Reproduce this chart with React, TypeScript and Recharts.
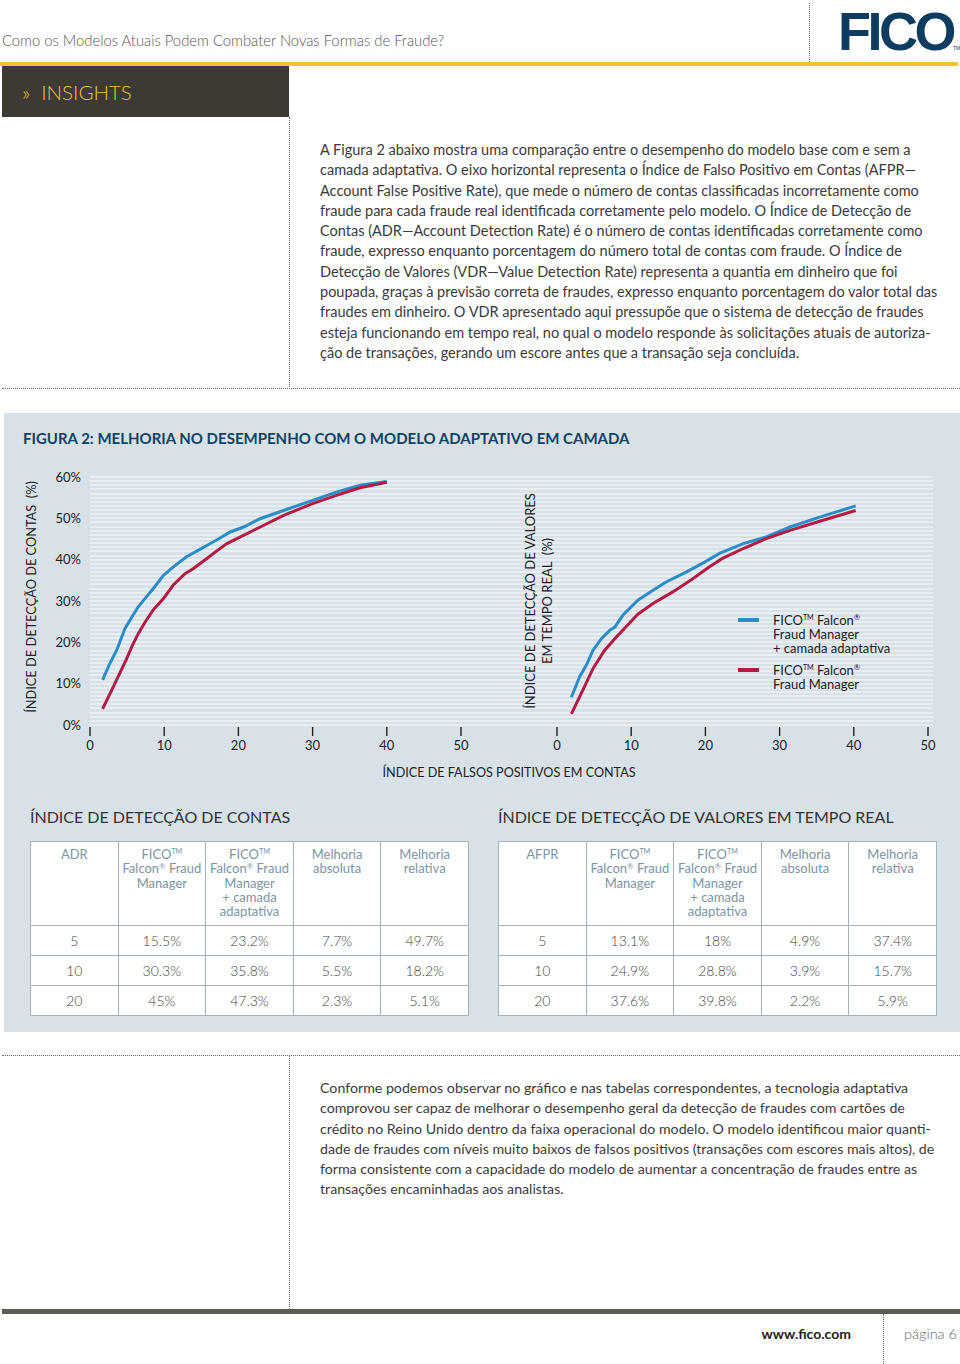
import React from 'react';
import { LineChart, Line, XAxis, YAxis, Legend } from 'recharts';

const FONT = 'Lato, "Open Sans", "Noto Sans", sans-serif';
const BLUE = '#2a8cc8';
const RED = '#b51a43';
const PANEL = '#d8e1e8';
const STRIPE = '#e9eef2';
const DOT = '1px dotted #6b6b6b';

// ---------- axis ticks ----------
const fprTicks = [0, 10, 20, 30, 40, 50];
const rateTicks = [0, 10, 20, 30, 40, 50, 60];

// ---------- ADR chart (Índice de detecção de contas) ----------
const adrAdaptiveFpr = [1.7, 2.6, 3.6, 4.7, 5.6, 6.5, 7.6, 8.7, 9.9, 11.2, 13.0, 14.5, 15.8, 17.3, 18.9, 20.7, 22.9, 26.1, 29.9, 33.3, 36.4, 40.0];
const adrAdaptiveRate = [10.9, 14.6, 18.1, 23.3, 26.0, 28.6, 31.0, 33.4, 36.2, 38.2, 40.7, 42.2, 43.5, 45.0, 46.7, 47.9, 49.9, 51.9, 54.3, 56.4, 58.0, 58.9];
const adrBaseFpr = [1.7, 3.15, 4.9, 5.7, 6.5, 7.5, 8.5, 9.9, 11.2, 12.8, 13.9, 15.75, 17.0, 18.45, 19.8, 22.95, 26.1, 29.9, 33.3, 36.4, 40.0];
const adrBaseRate = [3.9, 9.3, 15.9, 19.2, 22.1, 25.1, 27.8, 30.6, 33.8, 36.6, 37.8, 40.3, 42.0, 43.9, 45.1, 47.9, 50.7, 53.5, 55.6, 57.4, 58.7];

// ---------- VDR chart (Índice de detecção de valores em tempo real) ----------
const vdrAdaptiveFpr = [1.94, 3.05, 3.96, 4.86, 5.98, 7.1, 7.78, 8.9, 10.9, 12.94, 14.7, 17.4, 19.9, 21.9, 25.1, 28.2, 31.4, 35.4, 40.25];
const vdrAdaptiveRate = [6.7, 11.7, 14.5, 18.1, 20.9, 22.9, 23.7, 26.6, 30.2, 32.6, 34.6, 37.0, 39.4, 41.5, 43.9, 45.5, 47.9, 50.3, 53.0];
const vdrBaseFpr = [1.94, 3.5, 4.86, 6.43, 8.0, 10.9, 12.94, 15.6, 18.3, 20.5, 22.3, 25.1, 28.2, 31.4, 35.4, 40.25];
const vdrBaseRate = [2.7, 8.5, 13.7, 18.1, 21.3, 26.8, 29.4, 32.2, 35.4, 38.2, 40.3, 42.7, 45.1, 47.1, 49.3, 51.9];

// ---------- series names ----------
const adaptiveLegend = ['FICO™ Falcon®', 'Fraud Manager', '+ camada adaptativa'];
const baseLegend = ['FICO™ Falcon®', 'Fraud Manager'];
const adaptiveName = adaptiveLegend.join(' ');
const baseName = baseLegend.join(' ');

// ---------- tables ----------
const adrHeader = ['ADR', 'FICO™\nFalcon® Fraud\nManager', 'FICO™\nFalcon® Fraud\nManager\n+ camada\nadaptativa', 'Melhoria\nabsoluta', 'Melhoria\nrelativa'];
const vdrHeader = ['AFPR', 'FICO™\nFalcon® Fraud\nManager', 'FICO™\nFalcon® Fraud\nManager\n+ camada\nadaptativa', 'Melhoria\nabsoluta', 'Melhoria\nrelativa'];
const adrLevels = ['5', '10', '20'];
const adrBase = ['15.5%', '30.3%', '45%'];
const adrAdaptive = ['23.2%', '35.8%', '47.3%'];
const adrAbsolute = ['7.7%', '5.5%', '2.3%'];
const adrRelative = ['49.7%', '18.2%', '5.1%'];
const afprLevels = ['5', '10', '20'];
const vdrBase = ['13.1%', '24.9%', '37.6%'];
const vdrAdaptive = ['18%', '28.8%', '39.8%'];
const vdrAbsolute = ['4.9%', '3.9%', '2.2%'];
const vdrRelative = ['37.4%', '15.7%', '5.9%'];

// ---------- text ----------
const headerTitle = 'Como os Modelos Atuais Podem Combater Novas Formas de Fraude?';
const introLines = [
  'A Figura 2 abaixo mostra uma comparação entre o desempenho do modelo base com e sem a',
  'camada adaptativa. O eixo horizontal representa o Índice de Falso Positivo em Contas (AFPR—',
  'Account False Positive Rate), que mede o número de contas classificadas incorretamente como',
  'fraude para cada fraude real identificada corretamente pelo modelo. O Índice de Detecção de',
  'Contas (ADR—Account Detection Rate) é o número de contas identificadas corretamente como',
  'fraude, expresso enquanto porcentagem do número total de contas com fraude. O Índice de',
  'Detecção de Valores (VDR—Value Detection Rate) representa a quantia em dinheiro que foi',
  'poupada, graças à previsão correta de fraudes, expresso enquanto porcentagem do valor total das',
  'fraudes em dinheiro. O VDR apresentado aqui pressupõe que o sistema de detecção de fraudes',
  'esteja funcionando em tempo real, no qual o modelo responde às solicitações atuais de autoriza-',
  'ção de transações, gerando um escore antes que a transação seja concluída.',
];
const outroLines = [
  'Conforme podemos observar no gráfico e nas tabelas correspondentes, a tecnologia adaptativa',
  'comprovou ser capaz de melhorar o desempenho geral da detecção de fraudes com cartões de',
  'crédito no Reino Unido dentro da faixa operacional do modelo. O modelo identificou maior quanti-',
  'dade de fraudes com níveis muito baixos de falsos positivos (transações com escores mais altos), de',
  'forma consistente com a capacidade do modelo de aumentar a concentração de fraudes entre as',
  'transações encaminhadas aos analistas.',
];

const toPoints = (xs: number[], ys: number[]) => xs.map((x, i) => ({ fpr: x, rate: ys[i] }));
const adrAdaptiveData = toPoints(adrAdaptiveFpr, adrAdaptiveRate);
const adrBaseData = toPoints(adrBaseFpr, adrBaseRate);
const vdrAdaptiveData = toPoints(vdrAdaptiveFpr, vdrAdaptiveRate);
const vdrBaseData = toPoints(vdrBaseFpr, vdrBaseRate);

const withMarks = (s: string) =>
  s.split(/(™|®)/).map((part, i) => {
    if (part === '™')
      return (
        <span key={i} style={{ fontSize: '0.55em', lineHeight: 0, position: 'relative', top: '-0.75em' }}>TM</span>
      );
    if (part === '®')
      return (
        <span key={i} style={{ fontSize: '0.6em', lineHeight: 0, position: 'relative', top: '-0.6em' }}>®</span>
      );
    return <React.Fragment key={i}>{part}</React.Fragment>;
  });

const XTick = (props: any) => {
  const { x, y, payload } = props;
  return (
    <g>
      <line x1={x} x2={x} y1={y + 2} y2={y + 11} stroke="#222" strokeWidth={1.4} />
      <text x={x} y={y + 20} textAnchor="middle" dominantBaseline="central" fontSize={13} fill="#222" fontFamily={FONT}>
        {payload.value}
      </text>
    </g>
  );
};

const LegendContent = (props: any) => {
  const { payload } = props;
  const items = [...(payload || [])].sort((a: any, b: any) => (a.value === adaptiveName ? -1 : b.value === adaptiveName ? 1 : 0));
  const linesFor = (name: string) => (name === adaptiveName ? adaptiveLegend : baseLegend);
  return (
    <div style={{ fontFamily: FONT }}>
      {items.map((p: any, i: number) => (
        <div key={i} style={{ display: 'flex', alignItems: 'flex-start', marginBottom: i === 0 ? 8 : 0 }}>
          <div style={{ width: 21, height: 4, background: p.color, marginTop: 5, marginRight: 14, flexShrink: 0 }} />
          <div style={{ fontSize: 13, lineHeight: '14px', color: '#222', whiteSpace: 'nowrap' }}>
            {linesFor(p.value).map((l, j) => (
              <div key={j} style={{ height: 14 }}>{withMarks(l)}</div>
            ))}
          </div>
        </div>
      ))}
    </div>
  );
};

const abs = (extra: React.CSSProperties): React.CSSProperties => ({ position: 'absolute', ...extra });

const DataTable = ({ left, title, header, rows }: { left: number; title: string; header: string[]; rows: string[][] }) => {
  const border = '1px solid #a3b3bd';
  return (
    <>
      <div style={abs({ left, top: 806, fontSize: 16, color: '#333', whiteSpace: 'nowrap', lineHeight: '22px' })}>{title}</div>
      <table
        style={abs({
          left,
          top: 841,
          width: 439,
          borderCollapse: 'collapse',
          tableLayout: 'fixed',
          background: '#fff',
          fontFamily: FONT,
        })}
      >
        <tbody>
          <tr style={{ height: 84 }}>
            {header.map((h, i) => (
              <td
                key={i}
                style={{
                  border,
                  verticalAlign: 'top',
                  textAlign: 'center',
                  color: '#7b95a6',
                  fontSize: 13,
                  lineHeight: '14.3px',
                  paddingTop: 5,
                  paddingLeft: 0,
                  paddingRight: 0,
                  paddingBottom: 0,
                }}
              >
                {h.split('\n').map((l, j) => (
                  <div key={j} style={{ whiteSpace: 'nowrap', height: 14.3 }}>{withMarks(l)}</div>
                ))}
              </td>
            ))}
          </tr>
          {rows.map((r, i) => (
            <tr key={i} style={{ height: 30 }}>
              {r.map((c, j) => (
                <td key={j} style={{ border, textAlign: 'center', fontSize: 14, color: '#444', padding: 0, fontWeight: 300 }}>
                  {c}
                </td>
              ))}
            </tr>
          ))}
        </tbody>
      </table>
    </>
  );
};

export default function App() {
  const adrRows = adrLevels.map((l, i) => [l, adrBase[i], adrAdaptive[i], adrAbsolute[i], adrRelative[i]]);
  const vdrRows = afprLevels.map((l, i) => [l, vdrBase[i], vdrAdaptive[i], vdrAbsolute[i], vdrRelative[i]]);
  const chartTop = 460;
  const chartH = 305;

  return (
    <div
      style={{
        position: 'absolute',
        left: 0,
        top: 0,
        width: 960,
        height: 1364,
        background: '#fff',
        fontFamily: FONT,
        overflow: 'hidden',
      }}
    >
      {/* header */}
      <div style={abs({ left: 2, top: 31, fontSize: 14.8, color: '#555', fontWeight: 300, whiteSpace: 'nowrap', lineHeight: '18px' })}>
        {headerTitle}
      </div>
      <div style={abs({ left: 809, top: 3, height: 59, borderLeft: DOT })} />
      <div
        style={abs({
          left: 838,
          top: 3.5,
          fontSize: 54,
          lineHeight: '54px',
          fontWeight: 700,
          color: '#0c3d60',
          fontFamily: '"Liberation Sans", Arial, sans-serif',
          letterSpacing: -3.5,
          whiteSpace: 'nowrap',
        })}
      >
        FICO
      </div>
      <div style={abs({ left: 953, top: 45, fontSize: 5, lineHeight: '6px', color: '#0c3d60', fontFamily: '"Liberation Sans", Arial, sans-serif' })}>
        TM
      </div>
      <div style={abs({ left: 0, top: 62, width: 958, height: 4, background: '#f1c232' })} />
      <div style={abs({ left: 2, top: 66, width: 287, height: 51, background: '#3d3a34' })} />
      <div style={abs({ left: 22, top: 80, fontSize: 20.5, lineHeight: '24px', color: '#f1c232', whiteSpace: 'pre', fontWeight: 300 })}>
        {'»  INSIGHTS'}
      </div>
      <div style={abs({ left: 289, top: 117, height: 272, borderLeft: DOT })} />

      {/* intro paragraph */}
      <div style={abs({ left: 320, top: 140, fontSize: 14.5, lineHeight: '20.3px', color: '#3a3a3a' })}>
        {introLines.map((l, i) => (
          <div key={i} style={{ whiteSpace: 'nowrap' }}>{l}</div>
        ))}
      </div>
      <div style={abs({ left: 2, top: 388, width: 958, borderTop: DOT })} />

      {/* figure panel */}
      <div style={abs({ left: 4, top: 413, width: 956, height: 619, background: PANEL })} />
      <div style={abs({ left: 23, top: 429, fontSize: 15, lineHeight: '18px', fontWeight: 700, color: '#0f4264', whiteSpace: 'nowrap' })}>
        FIGURA 2: MELHORIA NO DESEMPENHO COM O MODELO ADAPTATIVO EM CAMADA
      </div>

      {/* striped plotting background shared by both charts (one stripe per 1%) */}
      <div
        style={abs({
          left: 90,
          top: 476,
          width: 843,
          height: 250,
          backgroundImage: `repeating-linear-gradient(to bottom, ${STRIPE} 0px, ${STRIPE} 2px, rgba(0,0,0,0) 2px, rgba(0,0,0,0) ${248 / 60}px)`,
        })}
      />

      {/* left chart: ADR */}
      <div style={abs({ left: 0, top: chartTop })}>
        <LineChart width={480} height={chartH} margin={{ top: 17, right: 19, bottom: 0, left: 40 }}>
          <XAxis
            dataKey="fpr"
            type="number"
            domain={[0, 50]}
            ticks={fprTicks}
            axisLine={false}
            tickLine={false}
            tickSize={0}
            tickMargin={0}
            height={40}
            tick={<XTick />}
            allowDuplicatedCategory={false}
          />
          <YAxis
            type="number"
            domain={[0, 60]}
            ticks={rateTicks}
            width={50}
            axisLine={false}
            tickLine={false}
            tickSize={0}
            tickMargin={9}
            tickFormatter={(v: number) => `${v}%`}
            tick={{ fontSize: 13, fill: '#222', fontFamily: FONT }}
          />
          <Line data={adrAdaptiveData} dataKey="rate" name={adaptiveName} stroke={BLUE} strokeWidth={3} dot={false} type="linear" isAnimationActive={false} />
          <Line data={adrBaseData} dataKey="rate" name={baseName} stroke={RED} strokeWidth={3} dot={false} type="linear" isAnimationActive={false} />
        </LineChart>
      </div>

      {/* right chart: VDR */}
      <div style={abs({ left: 480, top: chartTop })}>
        <LineChart width={480} height={chartH} margin={{ top: 17, right: 32, bottom: 0, left: 77 }}>
          <XAxis
            dataKey="fpr"
            type="number"
            domain={[0, 50]}
            ticks={fprTicks}
            axisLine={false}
            tickLine={false}
            tickSize={0}
            tickMargin={0}
            height={40}
            tick={<XTick />}
            allowDuplicatedCategory={false}
          />
          <YAxis type="number" domain={[0, 60]} ticks={rateTicks} hide />
          <Line data={vdrAdaptiveData} dataKey="rate" name={adaptiveName} stroke={BLUE} strokeWidth={3} dot={false} type="linear" isAnimationActive={false} />
          <Line data={vdrBaseData} dataKey="rate" name={baseName} stroke={RED} strokeWidth={3} dot={false} type="linear" isAnimationActive={false} />
          <Legend
            layout="horizontal"
            verticalAlign="middle"
            align="center"
            content={<LegendContent />}
            wrapperStyle={{ position: 'absolute', left: 258, top: 153, width: 200, height: 80 }}
          />
        </LineChart>
      </div>

      {/* axis titles */}
      <div
        style={abs({
          left: 31 - 130,
          top: 597 - 9,
          width: 260,
          height: 18,
          lineHeight: '18px',
          fontSize: 12.8,
          color: '#222',
          textAlign: 'center',
          whiteSpace: 'pre',
          transform: 'rotate(-90deg)',
          transformOrigin: 'center center',
        })}
      >
        {'ÍNDICE DE DETECÇÃO DE CONTAS  (%)'}
      </div>
      <div
        style={abs({
          left: 538.5 - 130,
          top: 601 - 17,
          width: 260,
          height: 34,
          lineHeight: '17px',
          fontSize: 13,
          color: '#222',
          textAlign: 'center',
          whiteSpace: 'pre',
          transform: 'rotate(-90deg)',
          transformOrigin: 'center center',
        })}
      >
        {'ÍNDICE DE DETECÇÃO DE VALORES\nEM TEMPO REAL  (%)'}
      </div>
      <div style={abs({ left: 309, top: 764, width: 400, textAlign: 'center', fontSize: 12.6, lineHeight: '18px', color: '#222' })}>
        ÍNDICE DE FALSOS POSITIVOS EM CONTAS
      </div>

      {/* tables */}
      <DataTable left={30} title="ÍNDICE DE DETECÇÃO DE CONTAS" header={adrHeader} rows={adrRows} />
      <DataTable left={498} title="ÍNDICE DE DETECÇÃO DE VALORES EM TEMPO REAL" header={vdrHeader} rows={vdrRows} />

      {/* closing paragraph */}
      <div style={abs({ left: 2, top: 1055, width: 958, borderTop: DOT })} />
      <div style={abs({ left: 289, top: 1056, height: 253, borderLeft: DOT })} />
      <div style={abs({ left: 320, top: 1078, fontSize: 14.2, lineHeight: '20.3px', color: '#3a3a3a' })}>
        {outroLines.map((l, i) => (
          <div key={i} style={{ whiteSpace: 'nowrap' }}>{l}</div>
        ))}
      </div>

      {/* footer */}
      <div style={abs({ left: 2, top: 1309, width: 958, height: 5, background: '#5f5b52' })} />
      <div style={abs({ left: 883, top: 1314, height: 50, borderLeft: DOT })} />
      <div style={abs({ left: 700, top: 1325, width: 151, textAlign: 'right', fontSize: 14, lineHeight: '18px', fontWeight: 700, color: '#222' })}>
        www.fico.com
      </div>
      <div style={abs({ left: 904, top: 1325, fontSize: 14.5, lineHeight: '18px', color: '#666', fontWeight: 300, whiteSpace: 'nowrap' })}>
        página 6
      </div>
    </div>
  );
}
